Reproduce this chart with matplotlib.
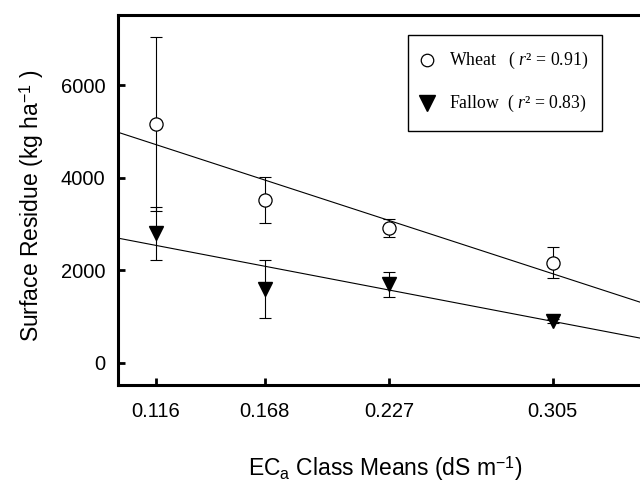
import matplotlib
matplotlib.use("Agg")
import matplotlib.pyplot as plt
from matplotlib.patches import Rectangle
import numpy as np

plt.rcParams['font.family'] = ['Liberation Sans', 'DejaVu Sans']
plt.rcParams['mathtext.fontset'] = 'custom'
plt.rcParams['mathtext.rm'] = 'Liberation Sans'
plt.rcParams['mathtext.it'] = 'Liberation Serif:italic'

# Data
ec_means = [0.116, 0.168, 0.227, 0.305]
tick_labels = ["0.116", "0.168", "0.227", "0.305"]
wheat = [5170, 3530, 2920, 2170]
wheat_err = [1880, 500, 200, 340]
fallow = [2800, 1600, 1700, 900]
fallow_err = [570, 630, 270, 40]
# regression lines (x0, y at x0, slope)
wheat_fit = (0.098, 4990, -14790)
fallow_fit = (0.098, 2700, -8700)
legend_labels = ['Wheat   ( $r$² = 0.91)', 'Fallow  ( $r$² = 0.83)']

fig = plt.figure(figsize=(6.4, 4.9), dpi=100)
ax = fig.add_axes([0.184, 0.214, 0.816, 0.755])

xlim = (0.098, 0.3465)
xs = np.array(xlim)
for (x0, y0, m) in (wheat_fit, fallow_fit):
    ax.plot(xs, y0 + m * (xs - x0), color='black', lw=0.8, zorder=2)

ax.errorbar(ec_means, wheat, yerr=wheat_err, fmt='none', ecolor='black',
            elinewidth=0.8, capsize=4, capthick=0.8, zorder=3)
ax.errorbar(ec_means, fallow, yerr=fallow_err, fmt='none', ecolor='black',
            elinewidth=0.8, capsize=4, capthick=0.8, zorder=3)
ax.plot(ec_means, wheat, 'o', ms=9.5, mfc='white', mec='black', mew=0.9, zorder=4)
ax.plot(ec_means, fallow, 'v', ms=10, mfc='black', mec='black', zorder=4)

ax.set_xlim(*xlim)
ax.set_ylim(-480, 7520)
ax.set_xticks(ec_means)
ax.set_xticklabels(tick_labels)
ax.set_yticks([0, 2000, 4000, 6000])

for s in ['left', 'bottom', 'top']:
    ax.spines[s].set_linewidth(2.2)
ax.spines['right'].set_visible(False)
ax.tick_params(axis='both', direction='in', width=2, length=5, labelsize=14.5)
ax.tick_params(axis='x', pad=12)
ax.tick_params(axis='y', pad=9)

ax.set_ylabel('Surface Residue (kg ha$^{-1}$ )', fontsize=16.5, va='center')
ax.yaxis.set_label_coords(-0.165, 0.486)
ax.set_xlabel('EC$_{\\mathrm{a}}$ Class Means (dS m$^{-1}$)', fontsize=16.5, va='center')
ax.xaxis.set_label_coords(0.5115, -0.225)

# manual legend box
ax.add_patch(Rectangle((0.5556, 0.6865), 0.3716, 0.2594, transform=ax.transAxes,
                       facecolor='white', edgecolor='black', lw=1.0, zorder=5))
ax.plot([0.592], [0.878], 'o', ms=9, mfc='white', mec='black', mew=0.9,
        transform=ax.transAxes, zorder=6, clip_on=False)
ax.plot([0.592], [0.762], 'v', ms=11, mfc='black', mec='black',
        transform=ax.transAxes, zorder=6, clip_on=False)
for yy, lab in zip([0.878, 0.762], legend_labels):
    ax.text(0.634, yy, lab, transform=ax.transAxes, va='center', ha='left',
            family='Liberation Serif', fontsize=12.8, zorder=6)

fig.savefig('out.png', dpi=100)
